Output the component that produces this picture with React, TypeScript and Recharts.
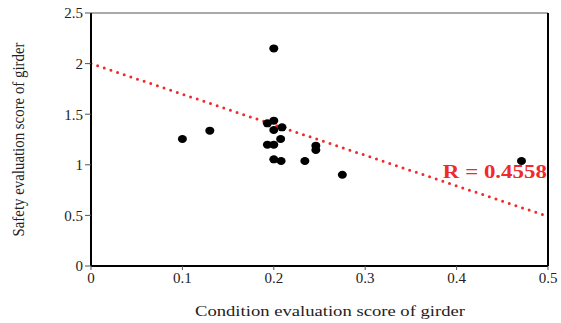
import React from 'react';
import {
  ScatterChart,
  Scatter,
  XAxis,
  YAxis,
  ReferenceLine,
  ReferenceDot,
} from 'recharts';

// girder condition score vs safety score
const conditionScores = [
  0.2, 0.1, 0.13, 0.193, 0.2, 0.209, 0.2, 0.2075, 0.193, 0.2, 0.2, 0.208, 0.234, 0.246, 0.246, 0.275,
  0.471,
];
const safetyScores = [
  2.15, 1.255, 1.337, 1.41, 1.436, 1.37, 1.344, 1.255, 1.199, 1.199, 1.054, 1.038, 1.038, 1.189, 1.146,
  0.902, 1.038,
];

const xTicks = [0, 0.1, 0.2, 0.3, 0.4, 0.5];
const yTicks = [0, 0.5, 1, 1.5, 2, 2.5];

// fitted trend: y = a + b x
const trendIntercept = 2.0;
const trendSlope = -3.02;
const rLabel = 'R = 0.4558';

const points = conditionScores.map((x, i) => ({ x, y: safetyScores[i] }));
const trendSegment = [
  { x: 0, y: trendIntercept },
  { x: 0.5, y: trendIntercept + trendSlope * 0.5 },
];

const serif = '"Liberation Serif", "Times New Roman", serif';
const tickStyle = { fontFamily: serif, fontSize: 15, fill: '#222' };

function YTitle(props: any) {
  const vb = props.viewBox ?? {};
  const cy = vb.y + vb.height / 2;
  return (
    <text
      x={0}
      y={0}
      transform={`translate(24, ${cy}) rotate(-90)`}
      textAnchor="middle"
      fontFamily={serif}
      fontSize={16}
      fill="#222"
      textLength={194}
      lengthAdjust="spacingAndGlyphs"
    >
      Safety evaluation  score of girder
    </text>
  );
}

function XTitle() {
  return (
    <text
      x={330}
      y={316}
      textAnchor="middle"
      fontFamily={serif}
      fontSize={15}
      fill="#222"
      textLength={270}
      lengthAdjust="spacingAndGlyphs"
    >
      Condition  evaluation  score of girder
    </text>
  );
}

function RText(props: any) {
  const vb = props.viewBox ?? {};
  return (
    <text
      x={vb.x}
      y={vb.y + 6}
      fontFamily={serif}
      fontSize={18}
      fontWeight="bold"
      fill="#ee2a2a"
      textLength={104}
      lengthAdjust="spacingAndGlyphs"
    >
      {rLabel}
    </text>
  );
}

export default function App() {
  return (
    <div style={{ position: 'absolute', left: 0, top: 0, background: '#fff' }}>
      <ScatterChart
        width={561}
        height={323}
        margin={{ top: 13, right: 13, bottom: 27, left: 31 }}
      >
        <XAxis
          type="number"
          dataKey="x"
          domain={[0, 0.5]}
          ticks={xTicks}
          tickFormatter={(v) => String(v)}
          axisLine={{ stroke: '#000', strokeWidth: 2 }}
          tickLine={{ stroke: '#555' }}
          tickSize={4}
          tick={tickStyle}
          height={30}
          label={<XTitle />}
        />
        <YAxis
          type="number"
          dataKey="y"
          domain={[0, 2.5]}
          ticks={yTicks}
          tickFormatter={(v) => String(v)}
          axisLine={{ stroke: '#000', strokeWidth: 2 }}
          tickLine={{ stroke: '#555' }}
          tickSize={6}
          tick={tickStyle}
          width={60}
          label={<YTitle />}
        />
        <ReferenceLine y={2.5} stroke="#555" strokeWidth={1} />
        <ReferenceLine x={0.5} stroke="#000" strokeWidth={2} />
        <ReferenceLine
          segment={trendSegment}
          stroke="#ee2a2a"
          strokeWidth={3}
          strokeDasharray="0 7"
          strokeLinecap="round"
        />
        <Scatter data={points} fill="#000" isAnimationActive={false} shape={(p: any) => (
          <ellipse cx={p.cx} cy={p.cy} rx={4.5} ry={4} fill="#000" />
        )} />
        <ReferenceDot
          x={0.385}
          y={0.93}
          r={0}
          fill="none"
          stroke="none"
          label={<RText />}
        />
      </ScatterChart>
    </div>
  );
}
